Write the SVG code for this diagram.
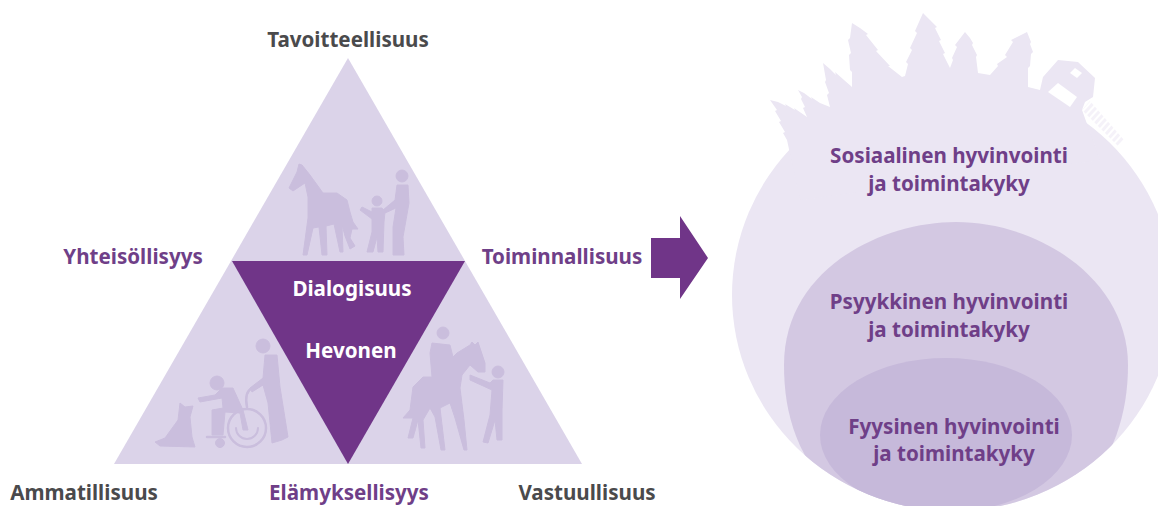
<svg xmlns="http://www.w3.org/2000/svg" width="1158" height="506" viewBox="0 0 1158 506">
<style>
text{font-family:"Noto Sans","Open Sans",sans-serif;font-weight:700;font-size:20.6px;text-anchor:middle}
.d{fill:#4a4a4c}.p{fill:#6f3f88}.w{fill:#fff}
.sil{fill:#cabedd;stroke:#cabedd;stroke-width:1;stroke-linejoin:round}
.sf{fill:none;stroke:#cabedd;stroke-linecap:round;stroke-linejoin:round}
.l{fill:#ebe6f3}
</style>
<defs>
<filter id="soft" x="-5%" y="-5%" width="110%" height="110%"><feGaussianBlur stdDeviation="0.6"/></filter>
<clipPath id="outer"><ellipse cx="953" cy="295" rx="221" ry="216"/></clipPath>
<pattern id="hatch" width="5" height="5" patternUnits="userSpaceOnUse" patternTransform="rotate(-48)"><rect width="5" height="3" fill="#f5f2f9"/></pattern>
</defs>
<rect width="1158" height="506" fill="#fff"/>
<g id="triangle">
<polygon points="348,58 582,464 114,464" fill="#dbd3e9"/>
<polygon points="232,261 465,261 348,464" fill="#703588"/>
</g>
<g id="fig-top" filter="url(#soft)">
<path class="sil" d="M299,164 L302,165 L310,175 L323,193 L337,193 L347,200 L350,212 L353,222 L358,229 L352,229 L350,238 L355,246 L350,249 L345,236 L342,225 L343,252 L340,252 L334,224 L326,226 L327,255 L322,255 L319,227 L313,228 L307,255 L303,255 L308,218 L308,197 L305,183 L293,191 L289,188 L297,172Z"/>
<circle class="sil" cx="402" cy="176" r="6"/>
<path class="sil" d="M397,185 L408,185 L409,203 L403,237 L404,255 L393,255 L393,227 L396,208 L385,213 L383,210 L395,200Z"/>
<circle class="sil" cx="377" cy="201" r="5"/>
<path class="sil" d="M372,208 L382,208 L385,212 L384,222 L383,252 L378,252 L377,237 L373,252 L367,252 L372,232 L372,219 L360,210 L362,207 L372,212Z"/>
</g>
<g id="fig-left" filter="url(#soft)">
<circle class="sil" cx="263" cy="346" r="7"/>
<path class="sil" d="M265,355 L277,355 L280,387 L288,437 L282,440 L272,443 L268,403 L263,385 L252,392 L250,388 L263,378Z"/>
<circle class="sil" cx="217" cy="383" r="7"/>
<path class="sil" d="M215,395 L222,388 L233,388 L243,410 L248,430 L243,430 L240,413 L225,412 L223,435 L212,435 L212,410 L223,408 L222,398 L200,402 L198,398Z"/>
<path class="sf" stroke-width="2.5" d="M252,388 Q244,392 247,407 M207,437 H225"/>
<circle class="sf" cx="247" cy="428" r="19" stroke-width="2.5"/>
<path class="sf" stroke-width="2" d="M236,428 A11,11 0 0 0 258,428"/>
<circle class="sil" cx="220" cy="443" r="4.5"/>
<path class="sil" d="M180,403 L185,407 L193,406 L190,417 L192,437 L195,447 L160,446 L155,442 L165,438 L178,420Z"/>
</g>
<g id="fig-right" filter="url(#soft)">
<circle class="sil" cx="443" cy="333" r="6"/>
<path class="sil" d="M432,343 L450,345 L453,357 L457,353 L470,345 L472,342 L475,345 L478,342 L485,363 L485,372 L478,372 L470,365 L462,375 L460,388 L464,420 L467,450 L464,450 L455,418 L450,403 L440,408 L445,450 L441,450 L435,417 L430,408 L423,420 L425,448 L421,448 L418,420 L413,438 L408,438 L413,418 L403,418 L410,410 L413,387 L423,377 L432,377 L430,353Z"/>
<circle class="sil" cx="498" cy="372" r="6"/>
<path class="sil" d="M493,380 L503,380 L502,410 L502,440 L497,440 L495,420 L488,443 L483,442 L490,415 L492,390 L470,380 L470,375 L490,383Z"/>
</g>
<g id="circle-social">
<ellipse class="l" cx="953" cy="295" rx="221" ry="216"/>
<polygon points="1082,110 1090,101 1124,140 1118,146" fill="url(#hatch)"/>
<path class="l" filter="url(#soft)" d="M787,140 L783,133 L785,132 L779,122 L781,121 L775,111 L777,110 L770,100 L778,102 L786,106 L785,104 L795,110 L794,108 L807,117 L803,108 L805,107 L801,99 L802,97 L798,90 L804,93 L812,99 L811,97 L820,103 L830,107 L827,95 L829,93 L825,82 L826,80 L823,63 L830,69 L836,75 L835,72 L844,80 L852,87 L852,72 L850,70 L849,55 L851,53 L848,40 L850,38 L852,23 L860,28 L868,34 L866,35 L878,50 L876,51 L890,66 L888,66 L902,77 L905,76 L908,64 L906,62 L912,50 L910,48 L917,33 L915,31 L923,13 L930,20 L937,27 L935,28 L941,40 L939,41 L945,53 L943,54 L950,68 L953,60 L952,58 L957,47 L955,45 L965,32 L970,38 L973,43 L972,45 L977,55 L976,57 L978,73 L990,75 L998,66 L997,64 L1007,57 L1005,55 L1013,42 L1011,40 L1027,32 L1031,42 L1030,44 L1033,52 L1031,54 L1030,66 L1028,68 L1028,87 L1040,90 L1043,77 L1058,60 L1078,62 L1095,78 L1093,97 L1085,102 L1082,110 L1100,160 L800,200Z"/>
<polygon fill="#fff" filter="url(#soft)" points="1048,92 1058,83 1077,97 1070,107"/>
<polygon fill="#fff" filter="url(#soft)" points="1070,73 1075,68 1082,73 1077,78"/>
</g>
<g id="circle-psychic" clip-path="url(#outer)"><path fill="#d3c8e2" d="M956,222 C880,222 784,270 784,365 C784,420 800,470 860,520 L1060,520 C1110,470 1128,420 1128,365 C1128,280 1040,222 956,222Z"/></g>
<g id="circle-physical" clip-path="url(#outer)"><ellipse cx="946" cy="435" rx="126" ry="77" fill="#c6b9da"/></g>
<g id="arrow"><polygon points="651,238 680,238 680,216 708,258 680,299 680,278 651,278" fill="#703588"/></g>
<g id="labels">
<text class="d" x="348" y="47">Tavoitteellisuus</text>
<text class="p" x="133" y="264">Yhteisöllisyys</text>
<text class="p" x="562" y="264">Toiminnallisuus</text>
<text class="w" x="352" y="296">Dialogisuus</text>
<text class="w" x="351" y="358">Hevonen</text>
<text class="d" x="84" y="500">Ammatillisuus</text>
<text class="p" x="349" y="500">Elämyksellisyys</text>
<text class="d" x="587" y="500">Vastuullisuus</text>
<text class="p" x="949" y="163">Sosiaalinen hyvinvointi</text>
<text class="p" x="949" y="191">ja toimintakyky</text>
<text class="p" x="949" y="309">Psyykkinen hyvinvointi</text>
<text class="p" x="949" y="337">ja toimintakyky</text>
<text class="p" x="954" y="434">Fyysinen hyvinvointi</text>
<text class="p" x="954" y="461">ja toimintakyky</text>
</g>
</svg>
